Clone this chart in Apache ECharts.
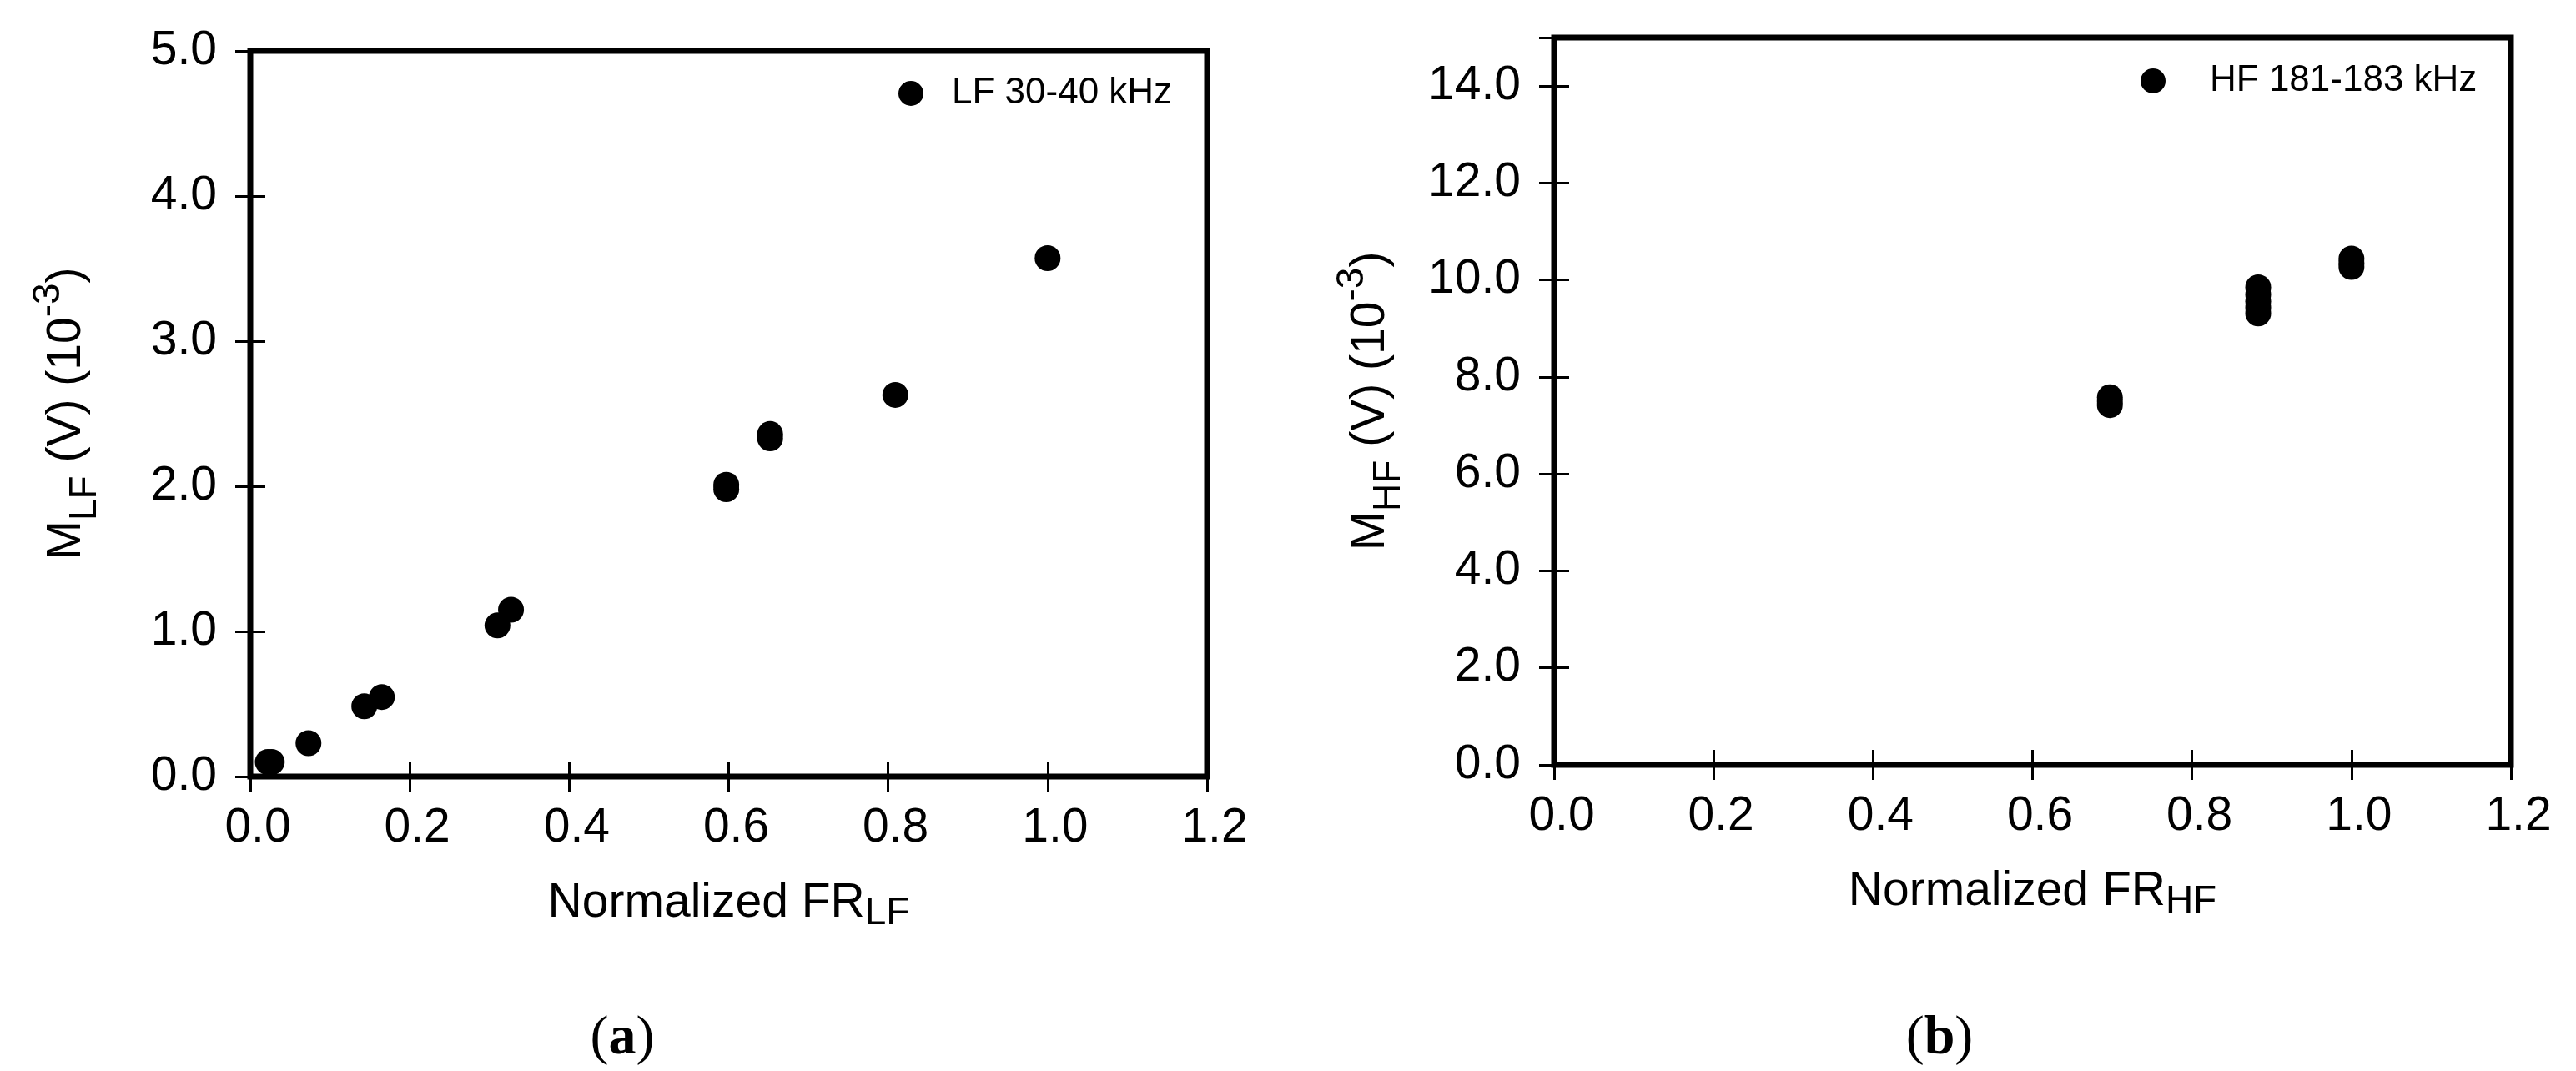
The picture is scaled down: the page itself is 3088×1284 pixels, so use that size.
<!DOCTYPE html>
<html><head><meta charset="utf-8">
<script src="https://cdn.jsdelivr.net/npm/echarts@6/dist/echarts.min.js"></script>
<style>html,body{margin:0;padding:0;background:#fff}#c{width:3088px;height:1284px}</style>
</head><body><div id="c"></div>
<script>
// ---- data ----
const lfName = 'LF 30-40 kHz';
const lfX = [0.022, 0.027, 0.073, 0.143, 0.165, 0.310, 0.327, 0.597, 0.597, 0.652, 0.652, 0.809, 1.000];
const lfY = [0.10, 0.10, 0.23, 0.484, 0.548, 1.041, 1.149, 2.01, 1.98, 2.36, 2.33, 2.63, 3.572];

const hfName = 'HF 181-183 kHz';
const hfX = [0.697, 0.697, 0.697, 0.883, 0.883, 0.883, 0.883, 0.883, 1.000, 1.000, 1.000];
const hfY = [7.58, 7.50, 7.42, 9.85, 9.70, 9.56, 9.43, 9.31, 10.44, 10.35, 10.27];

const xTickLabels = ['0.0', '0.2', '0.4', '0.6', '0.8', '1.0', '1.2'];
const lfYTickLabels = ['0.0', '1.0', '2.0', '3.0', '4.0', '5.0'];
const hfYTickLabels = ['0.0', '2.0', '4.0', '6.0', '8.0', '10.0', '12.0', '14.0'];
const panelLetters = ['a', 'b'];

// ---- styling ----
const FONT = 'Liberation Sans';
const BLACK = '#000';
const tickStyle = { inside: true, length: 18, lineStyle: { color: BLACK, width: 3 } };

function labelFrom(list) {
  return function (v) {
    const s = v.toFixed(1);
    return list.indexOf(s) >= 0 ? s : '';
  };
}

const nameRich = {
  m: { fontSize: 57, fontFamily: FONT, color: BLACK, lineHeight: 90, verticalAlign: 'middle' },
  s: { fontSize: 46, fontFamily: FONT, color: BLACK, lineHeight: 50, verticalAlign: 'bottom' },
  p: { fontSize: 46, fontFamily: FONT, color: BLACK, lineHeight: 40, verticalAlign: 'top' }
};
const xNameRich = {
  m: { fontSize: 57, fontFamily: FONT, color: BLACK, lineHeight: 70, verticalAlign: 'middle' },
  s: { fontSize: 46, fontFamily: FONT, color: BLACK, lineHeight: 30, verticalAlign: 'bottom' }
};

function xAxes(gi, sub) {
  return [
    {
      gridIndex: gi, type: 'value', position: 'bottom', min: 0, max: 1.2, interval: 0.2,
      axisLine: { show: false }, axisTick: tickStyle, splitLine: { show: false },
      axisLabel: { margin: 34, fontSize: 57, fontFamily: FONT, color: BLACK, padding: [0, 0, 0, 18],
        formatter: labelFrom(xTickLabels) },
      name: '{m|Normalized FR}{s|' + sub + '}', nameLocation: 'middle', nameGap: 117,
      nameTextStyle: { rich: xNameRich }
    },
    {
      gridIndex: gi, type: 'value', position: 'top', min: 0, max: 1.2, interval: 0.2,
      axisLine: { show: false }, axisTick: tickStyle, splitLine: { show: false },
      axisLabel: { show: false }
    }
  ];
}
function yAxes(gi, max, interval, ticks, sub) {
  return [
    {
      gridIndex: gi, type: 'value', position: 'left', min: 0, max: max, interval: interval,
      axisLine: { show: false }, axisTick: tickStyle, splitLine: { show: false },
      axisLabel: { margin: 40, fontSize: 57, fontFamily: FONT, color: BLACK, formatter: labelFrom(ticks) },
      name: '{m|M}{s|' + sub + '}{m| (V) (10}{p|-3}{m|)}', nameLocation: 'middle', nameGap: 175, nameRotate: 90,
      nameTextStyle: { rich: nameRich }
    },
    {
      gridIndex: gi, type: 'value', position: 'right', min: 0, max: max, interval: interval,
      axisLine: { show: false }, axisTick: tickStyle, splitLine: { show: false },
      axisLabel: { show: false }
    }
  ];
}

const chart = echarts.init(document.getElementById('c'), null, { renderer: 'canvas' });
chart.setOption({
  animation: false,
  backgroundColor: '#fff',
  grid: [
    { left: 300, top: 61, width: 1147, height: 870, show: true, borderColor: BLACK, borderWidth: 7, backgroundColor: 'transparent' },
    { left: 1863, top: 45, width: 1147, height: 872, show: true, borderColor: BLACK, borderWidth: 7, backgroundColor: 'transparent' }
  ],
  xAxis: xAxes(0, 'LF').concat(xAxes(1, 'HF')),
  yAxis: yAxes(0, 5, 1, lfYTickLabels, 'LF').concat(yAxes(1, 15, 2, hfYTickLabels, 'HF')),
  legend: [
    { data: [lfName], left: 1077, top: 90, padding: 0, icon: 'circle', itemWidth: 88, itemHeight: 30,
      textStyle: { fontSize: 44, fontFamily: FONT, color: BLACK, lineHeight: 30, padding: [14, 0, 0, 0] } },
    { data: [hfName], left: 2566, top: 75, padding: 0, icon: 'circle', itemWidth: 126, itemHeight: 30,
      textStyle: { fontSize: 44, fontFamily: FONT, color: BLACK, lineHeight: 30, padding: [14, 0, 0, 0] } }
  ],
  series: [
    { name: lfName, type: 'scatter', xAxisIndex: 0, yAxisIndex: 0, symbol: 'circle', symbolSize: 31,
      itemStyle: { color: BLACK, opacity: 1 }, data: lfX.map((x, i) => [x, lfY[i]]) },
    { name: hfName, type: 'scatter', xAxisIndex: 2, yAxisIndex: 2, symbol: 'circle', symbolSize: 31,
      itemStyle: { color: BLACK, opacity: 1 }, data: hfX.map((x, i) => [x, hfY[i]]) }
  ],
  graphic: [
    { type: 'text', x: 746, y: 1246, style: { text: '{p|(}{b|' + panelLetters[0] + '}{p|)}', textAlign: 'center', textVerticalAlign: 'middle',
      rich: { p: { font: '66px "Liberation Serif"', fill: BLACK }, b: { font: 'bold 66px "Liberation Serif"', fill: BLACK } } } },
    { type: 'text', x: 2325, y: 1246, style: { text: '{p|(}{b|' + panelLetters[1] + '}{p|)}', textAlign: 'center', textVerticalAlign: 'middle',
      rich: { p: { font: '66px "Liberation Serif"', fill: BLACK }, b: { font: 'bold 66px "Liberation Serif"', fill: BLACK } } } }
  ]
});
</script>
</body></html>
